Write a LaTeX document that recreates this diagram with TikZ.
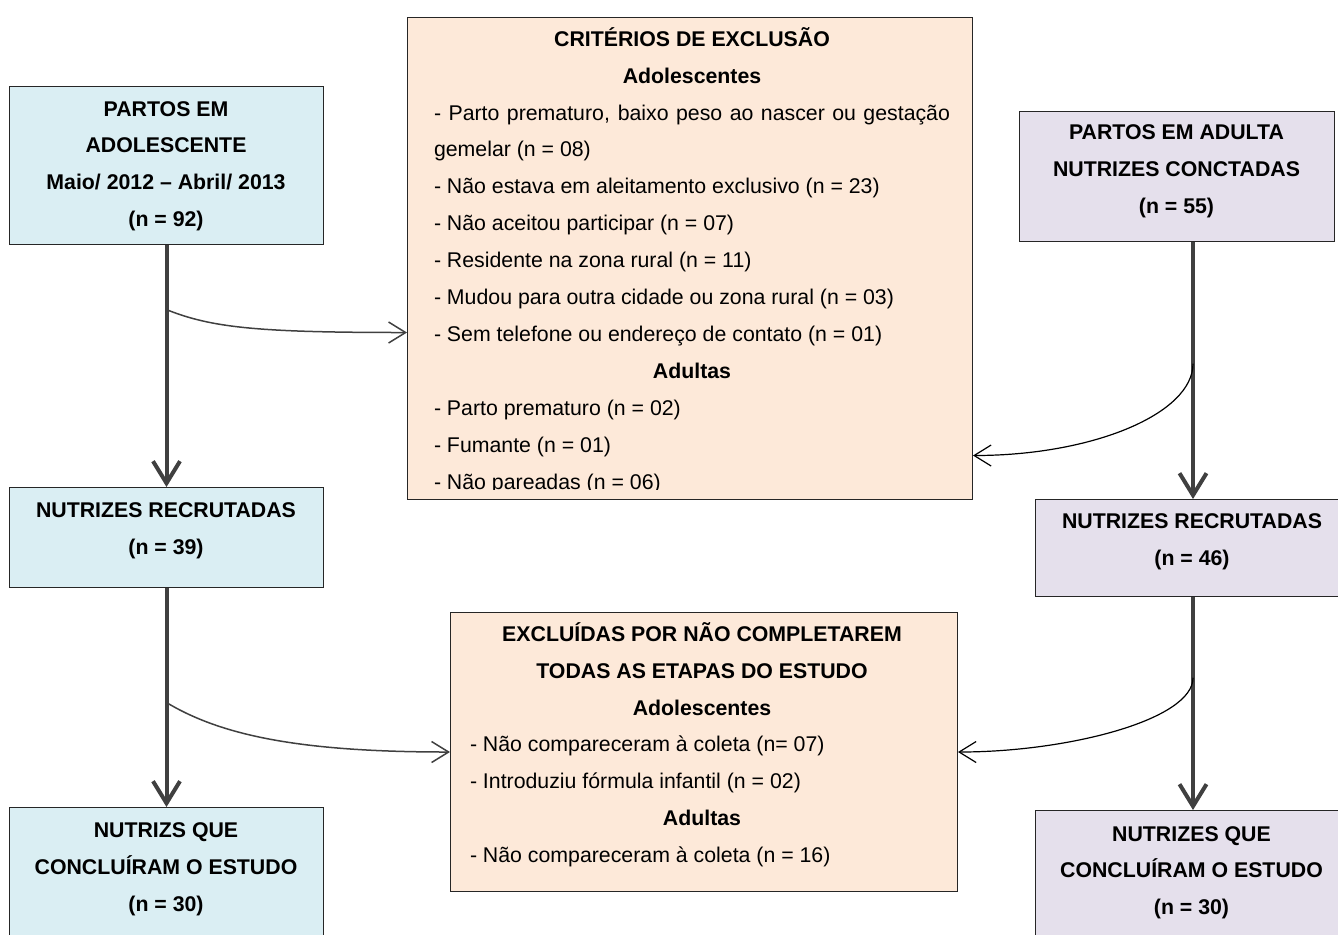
\documentclass[tikz,border=0pt]{standalone}
\usepackage{fontspec}
\setmainfont{Liberation Sans}
\usetikzlibrary{arrows.meta}
\usetikzlibrary{calc}

\newcommand{\crititem}[1]{\makebox[258pt][l]{#1}}
\newcommand{\exclitem}[1]{\makebox[232pt][l]{#1}}

\begin{document}
\begin{tikzpicture}[x=0.5pt,y=-0.5pt,
  box/.style={draw=black!85, line width=0.5pt, rectangle, anchor=north west, inner sep=0pt},
  lbl/.style={align=center, inner sep=0pt, font=\fontsize{10.65}{18.45}\selectfont},
  blbl/.style={lbl, font=\fontsize{10.65}{18.45}\selectfont\bfseries},
  flow/.style={draw=black!75, line width=2pt, -{Straight Barb[length=11pt,width=13.5pt]}},
  branch/.style={line width=0.6pt, -{Straight Barb[length=8.5pt,width=10.5pt]}}]
\definecolor{AdolBlue}{HTML}{DAEEF3}
\definecolor{ExclPeach}{HTML}{FDE9D9}
\definecolor{AdulLilac}{HTML}{E5E0EC}

\useasboundingbox (0,0) rectangle (1338,934);

% adolescentes (left)
\node[box, fill=AdolBlue, minimum width=157pt, minimum height=79pt] (adol) at (9,86) {};
\node[box, fill=AdolBlue, minimum width=157pt, minimum height=50pt] (recA) at (9,487) {};
\node[box, fill=AdolBlue, minimum width=157pt, minimum height=70pt] (concA) at (9,807) {};

\node[blbl] (adolt) at (166,164) {\strut PARTOS EM\\ ADOLESCENTE\\ Maio/ 2012 – Abril/ 2013\\ (n = 92)\strut};
\node[blbl] (recAt) at (166,528.5) {\strut NUTRIZES RECRUTADAS\\ (n = 39)\strut};
\node[blbl] (concAt) at (166,867) {\strut NUTRIZS QUE\\ CONCLUÍRAM O ESTUDO\\ (n = 30)\strut};

% adultas (right)
\node[box, fill=AdulLilac, minimum width=157.5pt, minimum height=65pt] (adul) at (1019,111) {};
\node[box, fill=AdulLilac, minimum width=157.5pt, minimum height=48.5pt] (recB) at (1035,499) {};
\node[box, fill=AdulLilac, minimum width=157.5pt, minimum height=70pt] (concB) at (1035,810) {};

\node[blbl] (adult) at (1176.5,169.5) {\strut PARTOS EM ADULTA\\ NUTRIZES CONCTADAS\\ (n = 55)\strut};
\node[blbl] (recBt) at (1192,540) {\strut NUTRIZES RECRUTADAS\\ (n = 46)\strut};
\node[blbl] (concBt) at (1191.5,870.5) {\strut NUTRIZES QUE\\ CONCLUÍRAM O ESTUDO\\ (n = 30)\strut};

% exclusoes (middle)
\node[box, fill=ExclPeach, minimum width=282.5pt, minimum height=241pt] (crit) at (407,17) {};
\node[box, fill=ExclPeach, minimum width=253.5pt, minimum height=139.5pt] (excl) at (450,612) {};

\begin{scope}
\clip (crit.north west) rectangle ($(crit.south east)+(0,-11)$);
\node[lbl] (critt) at (692,260.3) {\strut\textbf{CRITÉRIOS DE EXCLUSÃO}\\
  \textbf{Adolescentes}\\
  \makebox[258pt][s]{- Parto prematuro, baixo peso ao nascer ou gestação}\\
  \crititem{gemelar (n = 08)}\\
  \crititem{- Não estava em aleitamento exclusivo (n = 23)}\\
  \crititem{- Não aceitou participar (n = 07)}\\
  \crititem{- Residente na zona rural (n = 11)}\\
  \crititem{- Mudou para outra cidade ou zona rural (n = 03)}\\
  \crititem{- Sem telefone ou endereço de contato (n = 01)}\\
  \textbf{Adultas}\\
  \crititem{- Parto prematuro (n = 02)}\\
  \crititem{- Fumante (n = 01)}\\
  \crititem{- Não pareadas (n = 06)}\strut};
\end{scope}

\node[lbl] (exclt) at (702,744.5) {\strut\textbf{EXCLUÍDAS POR NÃO COMPLETAREM}\\
  \textbf{TODAS AS ETAPAS DO ESTUDO}\\
  \textbf{Adolescentes}\\
  \exclitem{- Não compareceram à coleta (n= 07)}\\
  \exclitem{- Introduziu fórmula infantil (n = 02)}\\
  \textbf{Adultas}\\
  \exclitem{- Não compareceram à coleta (n = 16)}\strut};

% main flow
\coordinate (adulout) at (recB.north |- adul.south);
\draw[flow] (adol.south) -- (recA.north);
\draw[flow] (recA.south) -- (concA.north);
\draw[flow] (adulout) -- (recB.north);
\draw[flow] (recB.south) -- (concB.north);

% branches to the exclusion boxes
\coordinate (brA) at ($(adol.south)!0.267!(recA.north)$);
\coordinate (brB) at ($(recA.south)!0.523!(concA.north)$);
\coordinate (brC) at ($(adulout)!0.473!(recB.north)$);
\coordinate (brD) at ($(recB.south)!0.379!(concB.north)$);

\draw[branch, black!75, line width=0.75pt] (brA) .. controls +(45,18) and +(-150,0) .. ($(crit.west)+(0,74)$);
\draw[branch, black!75, line width=0.75pt] (brB) .. controls +(55,33) and +(-150,0) .. (excl.west);
\draw[branch] (brC) .. controls +(0,50) and +(120,0) .. ($(crit.east)+(0,197)$);
\draw[branch] (brD) .. controls +(0,42) and +(110,0) .. (excl.east);

\end{tikzpicture}
\end{document}
